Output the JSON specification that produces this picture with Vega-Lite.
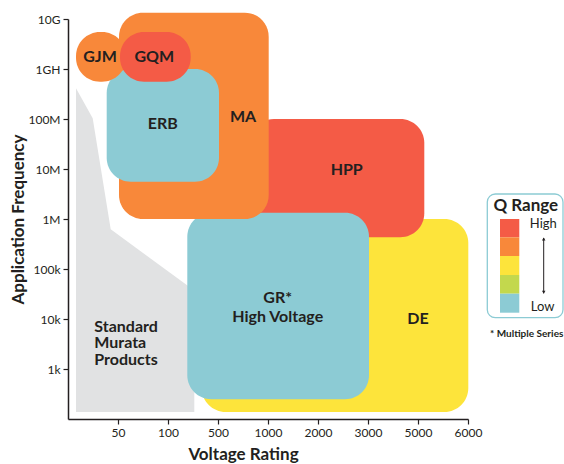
{
  "$schema": "https://vega.github.io/schema/vega-lite/v6.json",
  "width": 400,
  "height": 400,
  "autosize": {"type": "none"},
  "padding": {"left": 68, "top": 19, "right": 96, "bottom": 45},
  "background": "white",
  "config": {
    "view": {"stroke": null},
    "font": "Lato",
    "axis": {
      "grid": false,
      "domainColor": "#231f20",
      "domainWidth": 1.5,
      "tickColor": "#231f20",
      "tickWidth": 1.2,
      "tickSize": 5,
      "labelFont": "Lato",
      "labelFontSize": 12,
      "labelColor": "#231f20",
      "labelPadding": 3,
      "labelFlush": false,
      "titleFont": "Lato",
      "titleFontSize": 17,
      "titleFontWeight": "bold",
      "titleColor": "#231f20"
    }
  },
  "datasets": {
    "grey": [
      {"v": 0.16, "top": 6.614},
      {"v": 0.494, "top": 6.014},
      {"v": 0.854, "top": 3.794},
      {"v": 2.526, "top": 2.568}
    ],
    "boxes": [
      {"name": "DE", "q": "3", "x1": 2.674, "x2": 8.006, "y1": 0.14, "y2": 4.0},
      {"name": "HPP", "q": "1", "x1": 3.64, "x2": 7.126, "y1": 3.634, "y2": 6.0},
      {"name": "GR", "q": "5", "x1": 2.386, "x2": 6.02, "y1": 0.394, "y2": 4.126},
      {"name": "MA", "q": "2", "x1": 1.02, "x2": 4.014, "y1": 4.0, "y2": 8.126},
      {"name": "ERB", "q": "5", "x1": 0.774, "x2": 3.02, "y1": 4.746, "y2": 7.0},
      {"name": "GJM", "q": "2", "x1": 0.16, "x2": 1.16, "y1": 6.746, "y2": 7.74},
      {"name": "GQM", "q": "1", "x1": 1.04, "x2": 2.454, "y1": 6.746, "y2": 7.74}
    ],
    "labels": [
      {"t": "GJM", "x": 0.64, "y": 7.234},
      {"t": "GQM", "x": 1.726, "y": 7.234},
      {"t": "MA", "x": 3.5, "y": 6.034},
      {"t": "ERB", "x": 1.894, "y": 5.9},
      {"t": "HPP", "x": 5.574, "y": 4.98},
      {"t": "GR*", "x": 4.194, "y": 2.42},
      {"t": "High Voltage", "x": 4.194, "y": 2.04},
      {"t": "DE", "x": 7.0, "y": 2.0}
    ],
    "std": [
      {"t": "Standard\nMurata\nProducts", "x": 0.526, "y": 1.85}
    ],
    "legendBox": [
      {"x1": 8.386, "x2": 9.9, "y1": 2.026, "y2": 4.5}
    ],
    "swatches": [
      {"q": "1", "x1": 8.64, "x2": 9.026, "y1": 3.634, "y2": 4.0},
      {"q": "2", "x1": 8.64, "x2": 9.026, "y1": 3.26, "y2": 3.634},
      {"q": "3", "x1": 8.64, "x2": 9.026, "y1": 2.88, "y2": 3.26},
      {"q": "4", "x1": 8.64, "x2": 9.026, "y1": 2.506, "y2": 2.88},
      {"q": "5", "x1": 8.64, "x2": 9.026, "y1": 2.126, "y2": 2.506}
    ],
    "legendTitle": [
      {"t": "Q Range", "x": 9.156, "y": 4.266}
    ],
    "legendText": [
      {"t": "High", "x": 9.506, "y": 3.894},
      {"t": "Low", "x": 9.494, "y": 2.246}
    ],
    "note": [
      {"t": "* Multiple Series", "x": 9.174, "y": 1.7}
    ],
    "arrow": [
      {"x": 9.514, "y1": 2.514, "y2": 3.62}
    ],
    "arrowHeads": [
      {"x": 9.514, "y": 3.6, "dir": "up"},
      {"x": 9.514, "y": 2.534, "dir": "down"}
    ]
  },
  "layer": [
    {
      "data": {"name": "grey"},
      "mark": {"type": "area", "color": "#e1e2e3", "interpolate": "linear"},
      "encoding": {
        "x": {
          "field": "v", "type": "quantitative",
          "scale": {"domain": [0, 8], "nice": false, "zero": false},
          "axis": {
            "title": "Voltage Rating",
            "values": [1, 2, 3, 4, 5, 6, 7, 8],
            "labelExpr": "['', '50', '100', '500', '1000', '2000', '3000', '5000', '6000'][datum.value]",
            "titlePadding": 8,
            "titleX": 175
          }
        },
        "y": {
          "field": "top", "type": "quantitative",
          "scale": {"domain": [0, 8], "nice": false, "zero": false},
          "axis": {
            "title": "Application Frequency",
            "values": [1, 2, 3, 4, 5, 6, 7, 8],
            "labelExpr": "['', '1k', '10k', '100k', '1M', '10M', '100M', '1GH', '10G'][datum.value]",
            "titlePadding": 0
          }
        },
        "y2": {"datum": 0.14}
      }
    },
    {
      "data": {"name": "boxes"},
      "mark": {"type": "rect", "cornerRadius": 24},
      "encoding": {
        "x": {"field": "x1", "type": "quantitative"},
        "x2": {"field": "x2"},
        "y": {"field": "y1", "type": "quantitative"},
        "y2": {"field": "y2"},
        "color": {
          "field": "q", "type": "nominal",
          "scale": {"domain": ["1", "2", "3", "4", "5"], "range": ["#f45b46", "#f8883a", "#fde43b", "#c3d84d", "#8ccbd4"]},
          "legend": null
        }
      }
    },
    {
      "data": {"name": "labels"},
      "mark": {"type": "text", "font": "Lato", "fontWeight": "bold", "fontSize": 16, "color": "#231f20", "align": "center", "baseline": "middle"},
      "encoding": {
        "x": {"field": "x", "type": "quantitative"},
        "y": {"field": "y", "type": "quantitative"},
        "text": {"field": "t"}
      }
    },
    {
      "data": {"name": "std"},
      "mark": {"type": "text", "font": "Lato", "fontWeight": "bold", "fontSize": 16, "lineHeight": 16.5, "lineBreak": "\n", "color": "#231f20", "align": "left", "baseline": "middle"},
      "encoding": {
        "x": {"field": "x", "type": "quantitative"},
        "y": {"field": "y", "type": "quantitative"},
        "text": {"field": "t"}
      }
    },
    {
      "data": {"name": "legendBox"},
      "mark": {"type": "rect", "cornerRadius": 8, "fill": "white", "stroke": "#8ccbd4", "strokeWidth": 1.3},
      "encoding": {
        "x": {"field": "x1", "type": "quantitative"},
        "x2": {"field": "x2"},
        "y": {"field": "y1", "type": "quantitative"},
        "y2": {"field": "y2"}
      }
    },
    {
      "data": {"name": "swatches"},
      "mark": {"type": "rect"},
      "encoding": {
        "x": {"field": "x1", "type": "quantitative"},
        "x2": {"field": "x2"},
        "y": {"field": "y1", "type": "quantitative"},
        "y2": {"field": "y2"},
        "color": {"field": "q", "type": "nominal", "legend": null}
      }
    },
    {
      "data": {"name": "legendTitle"},
      "mark": {"type": "text", "font": "Lato", "fontWeight": "bold", "fontSize": 17, "color": "#231f20", "align": "center", "baseline": "middle"},
      "encoding": {
        "x": {"field": "x", "type": "quantitative"},
        "y": {"field": "y", "type": "quantitative"},
        "text": {"field": "t"}
      }
    },
    {
      "data": {"name": "legendText"},
      "mark": {"type": "text", "font": "Lato", "fontSize": 13, "color": "#231f20", "align": "center", "baseline": "middle"},
      "encoding": {
        "x": {"field": "x", "type": "quantitative"},
        "y": {"field": "y", "type": "quantitative"},
        "text": {"field": "t"}
      }
    },
    {
      "data": {"name": "note"},
      "mark": {"type": "text", "font": "Lato", "fontWeight": "bold", "fontSize": 10, "color": "#231f20", "align": "center", "baseline": "middle"},
      "encoding": {
        "x": {"field": "x", "type": "quantitative"},
        "y": {"field": "y", "type": "quantitative"},
        "text": {"field": "t"}
      }
    },
    {
      "data": {"name": "arrow"},
      "mark": {"type": "rule", "color": "#231f20", "strokeWidth": 1},
      "encoding": {
        "x": {"field": "x", "type": "quantitative"},
        "y": {"field": "y1", "type": "quantitative"},
        "y2": {"field": "y2"}
      }
    },
    {
      "data": {"name": "arrowHeads"},
      "mark": {"type": "point", "filled": true, "color": "#231f20", "size": 12, "opacity": 1},
      "encoding": {
        "x": {"field": "x", "type": "quantitative"},
        "y": {"field": "y", "type": "quantitative"},
        "shape": {
          "field": "dir", "type": "nominal",
          "scale": {"domain": ["up", "down"], "range": ["triangle-up", "triangle-down"]},
          "legend": null
        }
      }
    }
  ]
}
